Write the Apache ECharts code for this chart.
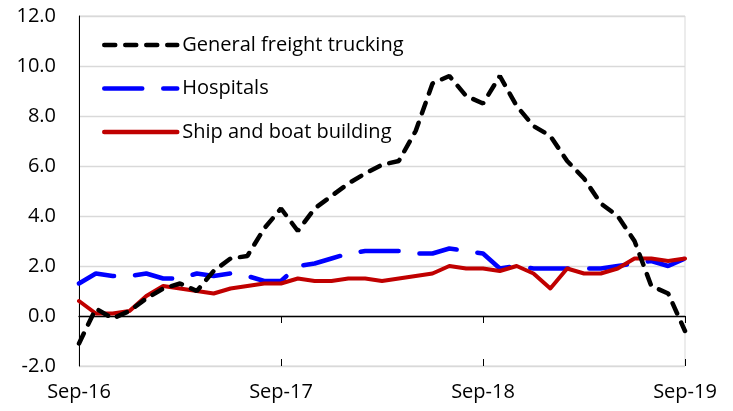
<!DOCTYPE html>
<html lang="en">
<head>
    <meta charset="UTF-8">
    <title>Employment growth by industry</title>
    <script src="https://cdn.jsdelivr.net/npm/echarts@6/dist/echarts.min.js"></script>
    <style>
        * { margin: 0; padding: 0; box-sizing: border-box; }
        body { background: #fff; }
        #chart { width: 733px; height: 411px; }
    </style>
</head>
<body>
    <div id="chart"></div>

    <script>
        // monthly, Sep-16 .. Sep-19
        const months = [
            'Sep-16', 'Oct-16', 'Nov-16', 'Dec-16', 'Jan-17', 'Feb-17', 'Mar-17', 'Apr-17', 'May-17', 'Jun-17', 'Jul-17', 'Aug-17',
            'Sep-17', 'Oct-17', 'Nov-17', 'Dec-17', 'Jan-18', 'Feb-18', 'Mar-18', 'Apr-18', 'May-18', 'Jun-18', 'Jul-18', 'Aug-18',
            'Sep-18', 'Oct-18', 'Nov-18', 'Dec-18', 'Jan-19', 'Feb-19', 'Mar-19', 'Apr-19', 'May-19', 'Jun-19', 'Jul-19', 'Aug-19',
            'Sep-19'
        ];

        const trucking = [
            -1.1, 0.3, -0.1, 0.2, 0.7, 1.1, 1.3, 1.0, 1.8, 2.3, 2.4, 3.5,
            4.3, 3.4, 4.3, 4.8, 5.3, 5.7, 6.05, 6.2, 7.4, 9.3, 9.6, 8.8,
            8.5, 9.6, 8.4, 7.6, 7.2, 6.2, 5.5, 4.5, 4.0, 3.0, 1.2, 0.9,
            -0.6
        ];

        const hospitals = [
            1.3, 1.7, 1.6, 1.6, 1.7, 1.5, 1.5, 1.7, 1.6, 1.7, 1.6, 1.4,
            1.4, 2.0, 2.1, 2.3, 2.5, 2.6, 2.6, 2.6, 2.5, 2.5, 2.7, 2.6,
            2.5, 1.9, 2.0, 1.9, 1.9, 1.9, 1.9, 1.9, 2.0, 2.1, 2.2, 2.0,
            2.3
        ];

        const shipbuilding = [
            0.6, 0.1, 0.1, 0.2, 0.8, 1.2, 1.1, 1.0, 0.9, 1.1, 1.2, 1.3,
            1.3, 1.5, 1.4, 1.4, 1.5, 1.5, 1.4, 1.5, 1.6, 1.7, 2.0, 1.9,
            1.9, 1.8, 2.0, 1.7, 1.1, 1.9, 1.7, 1.7, 1.9, 2.3, 2.3, 2.2,
            2.3
        ];

        const seriesNames = ['General freight trucking', 'Hospitals', 'Ship and boat building'];

        const font = '"Open Sans", Lato, sans-serif';
        const chart = echarts.init(document.getElementById('chart'));

        chart.setOption({
            animation: false,
            textStyle: { fontFamily: font },
            grid: {
                left: 79, right: 48, top: 16, bottom: 45,
                show: true,
                borderColor: '#d9d9d9',
                borderWidth: 1
            },
            legend: {
                data: seriesNames,
                orient: 'vertical',
                left: 97,
                top: 30,
                itemWidth: 73,
                itemHeight: 22,
                itemGap: 23.5,
                itemStyle: { opacity: 0 },
                lineStyle: { width: 4.5 },
                textStyle: { fontSize: 20, color: '#000', fontFamily: font }
            },
            xAxis: [
                {
                    // zero line with ticks below
                    type: 'category',
                    data: months,
                    boundaryGap: false,
                    position: 'bottom',
                    axisLine: { onZero: true, lineStyle: { color: '#000', width: 1.3 } },
                    axisTick: { show: true, interval: 11, length: 7, lineStyle: { color: '#000' } },
                    axisLabel: { show: false },
                    splitLine: { show: false }
                },
                {
                    // ticks above the zero line
                    type: 'category',
                    data: months,
                    boundaryGap: false,
                    position: 'bottom',
                    axisLine: { show: false, onZero: true },
                    axisTick: { show: true, inside: true, interval: 11, length: 7, lineStyle: { color: '#000' } },
                    axisLabel: { show: false },
                    splitLine: { show: false }
                },
                {
                    // labels along the bottom
                    type: 'category',
                    data: months,
                    boundaryGap: false,
                    position: 'bottom',
                    axisLine: { show: false, onZero: false },
                    axisTick: { show: false },
                    axisLabel: { interval: 11, fontSize: 20, color: '#000', margin: 16, fontFamily: font },
                    splitLine: { show: false }
                }
            ],
            yAxis: {
                type: 'value',
                min: -2,
                max: 12,
                interval: 2,
                axisLine: { show: true, lineStyle: { color: '#000', width: 1 } },
                axisTick: { show: false },
                axisLabel: {
                    fontSize: 20,
                    color: '#000',
                    margin: 23,
                    fontFamily: font,
                    formatter: function (v) { return v.toFixed(1); }
                },
                splitLine: { show: true, lineStyle: { color: '#d9d9d9', width: 1.3 } }
            },
            series: [
                {
                    name: 'Hospitals',
                    type: 'line',
                    data: hospitals,
                    symbol: 'none',
                    lineStyle: { color: '#0000ff', width: 4.5, type: [38, 21], cap: 'round' },
                    itemStyle: { color: '#0000ff' }
                },
                {
                    name: 'Ship and boat building',
                    type: 'line',
                    data: shipbuilding,
                    symbol: 'none',
                    lineStyle: { color: '#c00000', width: 4, cap: 'round', join: 'round' },
                    itemStyle: { color: '#c00000' }
                },
                {
                    name: 'General freight trucking',
                    type: 'line',
                    data: trucking,
                    symbol: 'none',
                    lineStyle: { color: '#000', width: 4.5, type: [11, 10], cap: 'round' },
                    itemStyle: { color: '#000' }
                }
            ]
        });
    </script>
</body>
</html>
